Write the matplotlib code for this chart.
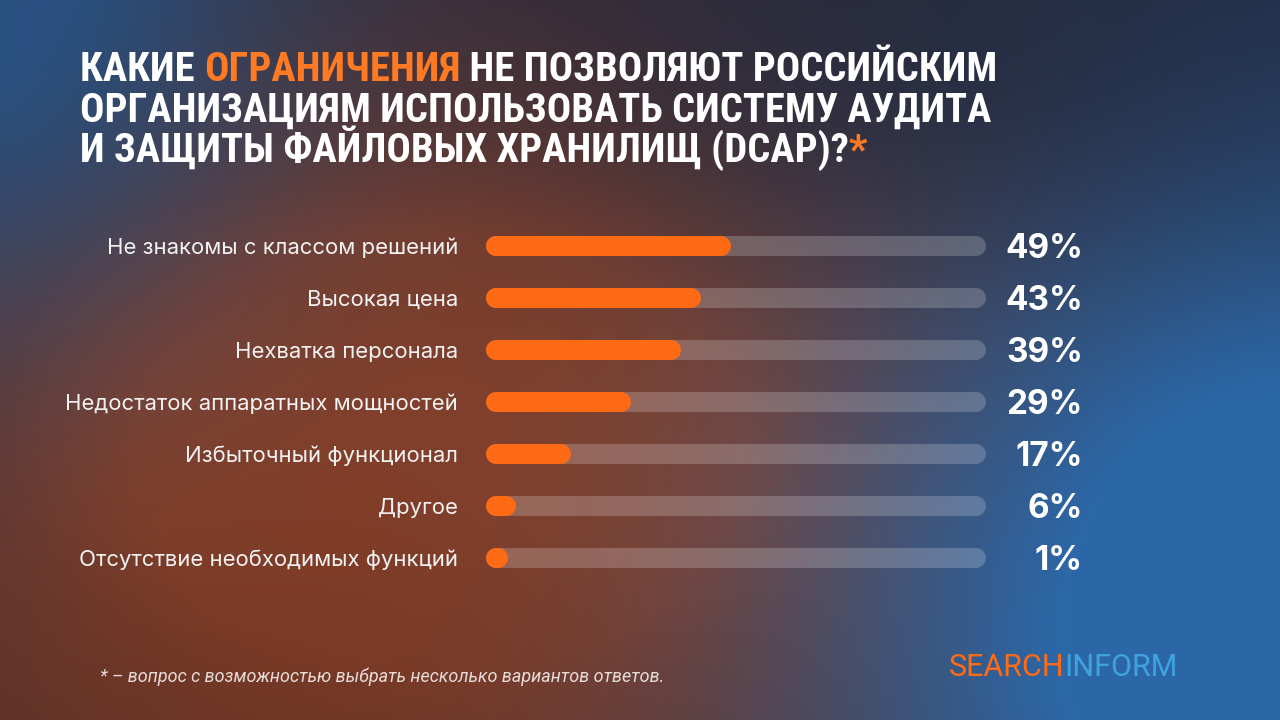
import numpy as np
import matplotlib
matplotlib.use("Agg")
import matplotlib.pyplot as plt
from matplotlib import font_manager

# Data
categories = [
    "Не знакомы с классом решений",
    "Высокая цена",
    "Нехватка персонала",
    "Недостаток аппаратных мощностей",
    "Избыточный функционал",
    "Другое",
    "Отсутствие необходимых функций",
]
values = [49, 43, 39, 29, 17, 6, 1]
value_labels = ["49%", "43%", "39%", "29%", "17%", "6%", "1%"]

title_lines = [
    [("КАКИЕ ", "w"), ("ОГРАНИЧЕНИЯ", "o"), (" НЕ ПОЗВОЛЯЮТ РОССИЙСКИМ", "w")],
    [("ОРГАНИЗАЦИЯМ ИСПОЛЬЗОВАТЬ СИСТЕМУ АУДИТА", "w")],
    [("И ЗАЩИТЫ ФАЙЛОВЫХ ХРАНИЛИЩ (DCAP)?", "w"), ("*", "o")],
]
footnote = "* – вопрос с возможностью выбрать несколько вариантов ответов."

ORANGE = "#FF6A14"
TITLE_ORANGE = "#FF7A22"
WHITE = "#FFFFFF"
LOGO_BLUE = "#3FA3E0"

W, H = 1280, 720
fig = plt.figure(figsize=(12.8, 7.2), dpi=100)

# background gradient
bg = fig.add_axes([0, 0, 1, 1])
bg.set_xlim(0, W)
bg.set_ylim(H, 0)
bg.axis("off")

yy, xx = np.mgrid[0:H:4, 0:W:4].astype(float)
def blob(cx, cy, rx, ry):
    return np.exp(-(((xx - cx) / rx) ** 2 + ((yy - cy) / ry) ** 2) / 2)[..., None]

def lerp(c, col, w):
    return c * (1 - w) + np.array(col) / 255 * w

img = np.ones(xx.shape + (3,)) * np.array([30, 36, 54]) / 255
img = lerp(img, [136, 62, 36], np.clip(1.3 * blob(440, 450, 420, 300), 0, 1))
img = lerp(img, [112, 52, 34], np.clip(blob(250, 720, 500, 120), 0, 1) * 0.6)
img = lerp(img, [44, 104, 168], np.clip(1.3 * blob(1300, 640, 330, 360), 0, 1))
img = lerp(img, [42, 82, 130], np.clip(1.1 * blob(-40, -40, 240, 260), 0, 1))
img = lerp(img, [30, 40, 62], np.clip(blob(900, 40, 350, 160), 0, 1) * 0.6)
bg.imshow(img, extent=(0, W, H, 0), aspect="auto", interpolation="bilinear", zorder=0)

# pick a narrow bold face for the title if one is installed
installed = {f.name for f in font_manager.fontManager.ttflist}
title_family = "Roboto"
for name in ["Roboto Condensed", "Liberation Sans Narrow", "DejaVu Sans Condensed",
             "Open Sans Condensed", "Noto Sans Condensed"]:
    if name in installed:
        title_family = name
        break

renderer = fig.canvas.get_renderer()

# fit first title line to the reference width (80 -> 997 px)
probe = bg.text(0, 0, "".join(t for t, _ in title_lines[0]), fontsize=24,
                fontweight="bold", family=title_family)
pw = probe.get_window_extent(renderer).width
probe.remove()
title_size = 24 * 917 / pw

title_font = dict(family=[title_family, "DejaVu Sans"], fontsize=title_size, fontweight="bold")
baselines = [81, 122, 162]
for line, yb in zip(title_lines, baselines):
    x = 80
    for txt, c in line:
        t = bg.text(x, yb, txt, color=WHITE if c == "w" else TITLE_ORANGE,
                    va="baseline", ha="left", **title_font)
        ext = t.get_window_extent(renderer)
        x = bg.transData.inverted().transform((ext.x1, ext.y0))[0]

# bars
row_h = 52
top = 246 - row_h / 2
ax = fig.add_axes([486 / W, 1 - (top + row_h * 7) / H, 500 / W, row_h * 7 / H])
ax.set_xlim(0, 100)
ax.set_ylim(6.5, -0.5)
ax.axis("off")

lw = 20 * 72 / 100  # 20 px thick
cap = 2  # half thickness in data units (10 px)
for i, (cat, v, lab) in enumerate(zip(categories, values, value_labels)):
    ax.plot([cap, 100 - cap], [i, i], color="white", alpha=0.2, lw=lw,
            solid_capstyle="round", zorder=1)
    ax.plot([cap, max(v - cap, cap + 0.3)], [i, i], color=ORANGE, lw=lw,
            solid_capstyle="round", zorder=2)
    ax.text(-5.6, i + 0.03, cat, ha="right", va="center", color="#F2F2F2",
            fontsize=15.9, family="Inter")
    ax.text(119.4, i + 0.05, lab, ha="right", va="center", color=WHITE,
            fontsize=24, fontweight="bold", family="Inter")

# footnote
bg.text(100, 677, footnote, ha="left", va="center", color="#E6DCD8",
        fontsize=13, style="italic", family="Roboto")

# logo
t = bg.text(949, 676, "SEARCH", ha="left", va="baseline", color="#FF6A14",
            fontsize=22, family="Roboto")
ext = t.get_window_extent(renderer)
x = bg.transData.inverted().transform((ext.x1, ext.y0))[0]
bg.text(x, 676, "INFORM", ha="left", va="baseline", color=LOGO_BLUE,
        fontsize=22, family="Roboto")

fig.savefig("out.png", dpi=100)
